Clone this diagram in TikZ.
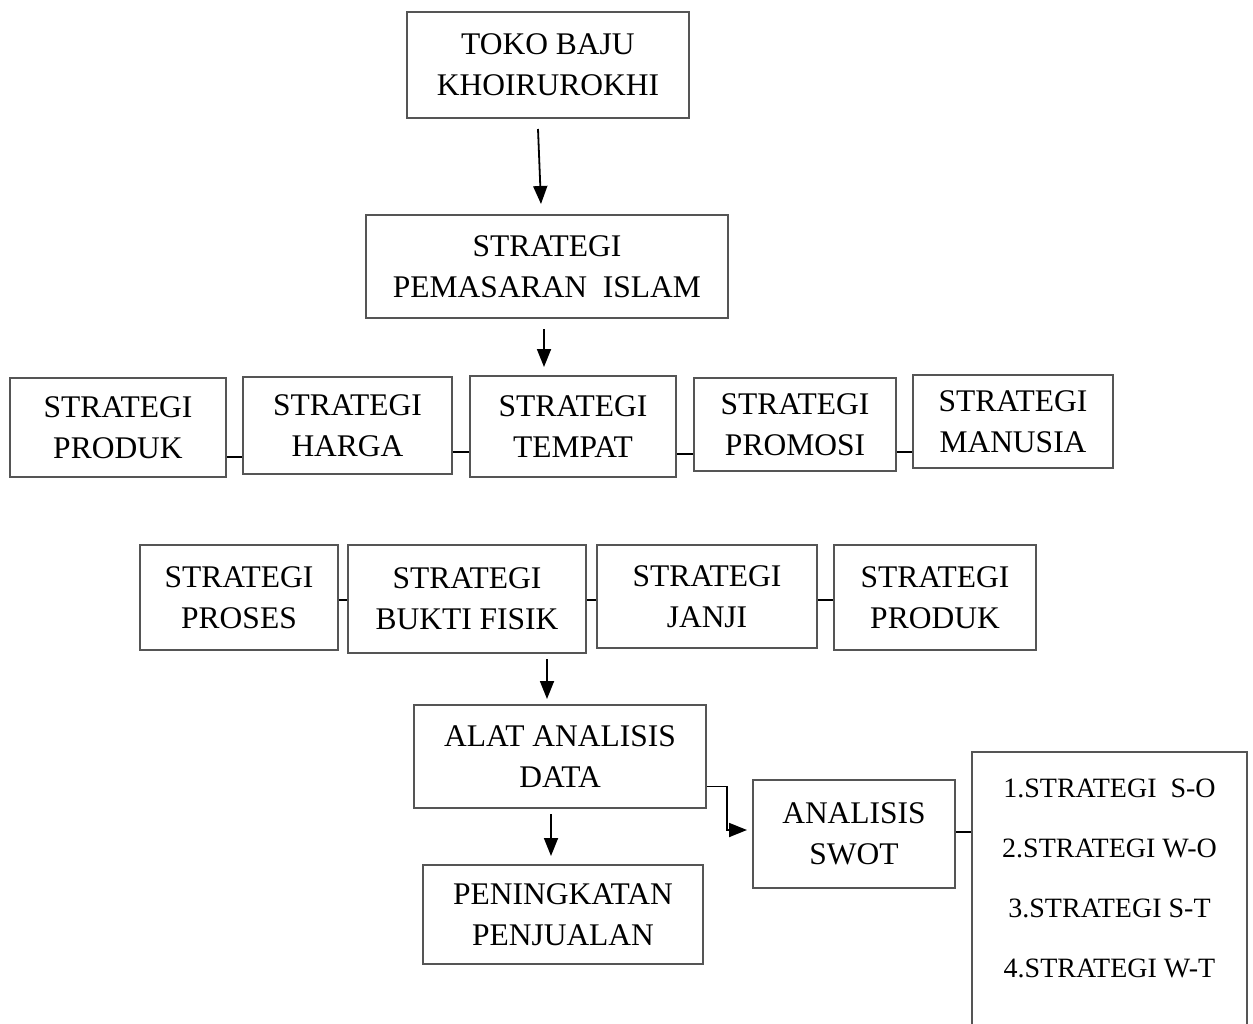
\documentclass[tikz,border=0pt]{standalone}
\usepackage{fontspec}
\setmainfont{Liberation Serif}
\usetikzlibrary{arrows.meta}
\tikzset{
  box/.style={draw={rgb,255:red,85;green,85;blue,85}, line width=2pt, align=center,
    font=\fontsize{31.5}{41}\selectfont, inner sep=0pt},
  arr/.style={line width=1.8pt, -{Triangle[length=18pt,width=14pt]}},
  link/.style={line width=2pt},
}
\begin{document}
\begin{tikzpicture}[x=1pt,y=-1pt]
\useasboundingbox (0,0) rectangle (1253,1023);
% top
\node[box, minimum width=282pt, minimum height=106pt] (toko) at (548,65) {TOKO BAJU\\KHOIRUROKHI};
\node[box, minimum width=362pt, minimum height=103pt] (pem) at (547,266.5) {STRATEGI\\PEMASARAN\ \ ISLAM};
% row 1
\node[box, minimum width=216pt, minimum height=99pt] (prod1) at (118,427.5) {STRATEGI\\PRODUK};
\node[box, minimum width=209pt, minimum height=97pt] (harga) at (347.5,425.5) {STRATEGI\\HARGA};
\node[box, minimum width=206pt, minimum height=101pt] (tempat) at (573,426.5) {STRATEGI\\TEMPAT};
\node[box, minimum width=202pt, minimum height=93pt] (promosi) at (795,424.5) {STRATEGI\\PROMOSI};
\node[box, minimum width=200pt, minimum height=93pt] (manusia) at (1013,421.5) {STRATEGI\\MANUSIA};
% row 2
\node[box, minimum width=198pt, minimum height=105pt] (proses) at (239,597.5) {STRATEGI\\PROSES};
\node[box, minimum width=238pt, minimum height=108pt] (bukti) at (467,599) {STRATEGI\\BUKTI FISIK};
\node[box, minimum width=220pt, minimum height=103pt] (janji) at (707,596.5) {STRATEGI\\JANJI};
\node[box, minimum width=202pt, minimum height=105pt] (prod2) at (935,597.5) {STRATEGI\\PRODUK};
% lower
\node[box, minimum width=292pt, minimum height=103pt] (alat) at (560,756.5) {ALAT ANALISIS\\DATA};
\node[box, minimum width=280pt, minimum height=99pt] (pen) at (563,914.5) {PENINGKATAN\\PENJUALAN};
\node[box, minimum width=202pt, minimum height=108pt] (swot) at (854,834) {ANALISIS\\SWOT};
\node[box, minimum width=275pt, minimum height=300pt] (list) at (1109.5,902) {};
\node[align=center, font=\fontsize{28}{60}\selectfont] (listtext) at (1109.5,878)
  {1.STRATEGI\ \ S-O\\2.STRATEGI W-O\\3.STRATEGI S-T\\4.STRATEGI W-T};
% arrows
\draw[arr] ([shift={(-10,10)}]toko.south) -- ([shift={(-6,-10)}]pem.north);
\draw[arr] ([xshift=-3pt,yshift=-10pt]pem.south) -- ([xshift=-29pt,yshift=8pt]tempat.north);
\draw[arr] ([xshift=80pt,yshift=-5pt]bukti.south) -- ([xshift=-13pt,yshift=5pt]alat.north);
\draw[arr] ([xshift=-9pt,yshift=-5pt]alat.south) -- ([xshift=-12pt,yshift=8pt]pen.north);
\draw[arr] ([yshift=-30pt]alat.east) -- ++(20,0) |- ([xshift=-5pt,yshift=4pt]swot.west);
% links
\draw[link] (prod1.east |- 0,457) -- (harga.west |- 0,457);
\draw[link] (harga.east |- 0,451.5) -- (tempat.west |- 0,451.5);
\draw[link] (tempat.east |- 0,454) -- (promosi.west |- 0,454);
\draw[link] (promosi.east |- 0,452) -- (manusia.west |- 0,452);
\draw[link] (proses.east |- 0,600) -- (bukti.west |- 0,600);
\draw[link] (bukti.east |- 0,600) -- (janji.west |- 0,600);
\draw[link] (janji.east |- 0,600) -- (prod2.west |- 0,600);
\draw[link] ([yshift=2pt]swot.east) -- (list.west |- 0,832);
\end{tikzpicture}
\end{document}
